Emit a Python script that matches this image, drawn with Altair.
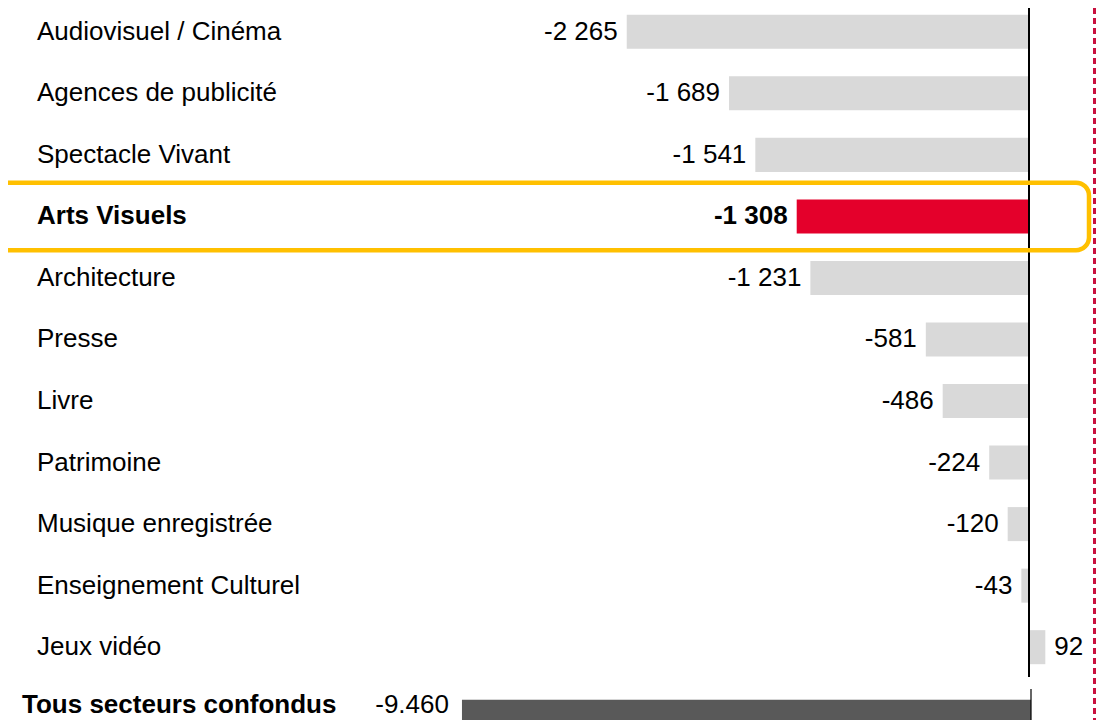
import altair as alt
import pandas as pd

categories = ["Audiovisuel / Cinéma", "Agences de publicité", "Spectacle Vivant",
              "Arts Visuels", "Architecture", "Presse", "Livre", "Patrimoine",
              "Musique enregistrée", "Enseignement Culturel", "Jeux vidéo"]
values = [-2265, -1689, -1541, -1308, -1231, -581, -486, -224, -120, -43, 92]
highlight = "Arts Visuels"
total_category = "Tous secteurs confondus"
total_value = -9460

FONT = "Liberation Sans"
FS = 26


def fmt_space(v):
    return f"{v:,}".replace(",", " ")


rows = []
for c, v in zip(categories, values):
    rows.append({"cat": c, "value": v, "label": fmt_space(v),
                 "kind": "highlight" if c == highlight else "normal"})
df = pd.DataFrame(rows)
df_total = pd.DataFrame([{"cat": total_category, "value": total_value,
                          "label": f"{total_value:,}".replace(",", "."), "kind": "total"}])

y_scale = alt.Scale(domain=categories + [total_category], range=[0, 724.5],
                    paddingInner=0.447, paddingOuter=0.11)
y_enc = alt.Y("cat:N", scale=y_scale, axis=None, sort=None)

main_x = alt.Scale(domain=[-5749, 377.3], nice=False, zero=False)
total_x = alt.Scale(domain=[-17007, 1080.6], nice=False, zero=False)

base = alt.Chart(df)

bars = base.mark_bar().encode(
    x=alt.X("value:Q", scale=main_x, axis=None),
    x2=alt.X2(datum=0),
    y=y_enc,
    color=alt.Color("kind:N", scale=alt.Scale(domain=["normal", "highlight"],
                                              range=["#D9D9D9", "#E4002B"]), legend=None),
)

zero_rule = alt.Chart(df).mark_rule(color="black", strokeWidth=1.2).encode(
    x=alt.X(datum=0, scale=main_x, axis=None),
    y=alt.value(-10), y2=alt.value(669),
)

neg_labels = base.transform_filter(
    (alt.datum.value < 0) & (alt.datum.kind == "normal")
).mark_text(align="right", baseline="middle", dx=-9, font=FONT, fontSize=FS, color="black").encode(
    x=alt.X("value:Q", scale=main_x, axis=None), y=y_enc, text="label:N")

hl_label = base.transform_filter(alt.datum.kind == "highlight").mark_text(
    align="right", baseline="middle", dx=-9, font=FONT, fontSize=FS, fontWeight="bold",
    color="black").encode(
    x=alt.X("value:Q", scale=main_x, axis=None), y=y_enc, text="label:N")

pos_labels = base.transform_filter(alt.datum.value > 0).mark_text(
    align="left", baseline="middle", dx=9, font=FONT, fontSize=FS, color="black").encode(
    x=alt.X("value:Q", scale=main_x, axis=None), y=y_enc, text="label:N")

cat_labels = base.transform_filter(alt.datum.kind == "normal").mark_text(
    align="left", baseline="middle", font=FONT, fontSize=FS, color="black").encode(
    x=alt.value(29), y=y_enc, text="cat:N")

cat_hl = base.transform_filter(alt.datum.kind == "highlight").mark_text(
    align="left", baseline="middle", font=FONT, fontSize=FS, fontWeight="bold",
    color="black").encode(
    x=alt.value(29), y=y_enc, text="cat:N")

box = base.transform_filter(alt.datum.kind == "highlight").mark_bar(
    height=67.5, cornerRadius=13, fillOpacity=0, stroke="#FFC000", strokeWidth=4.5).encode(
    x=alt.value(-60), x2=alt.value(1081), y=y_enc)

tbase = alt.Chart(df_total)
t_bar = tbase.mark_bar(color="#595959", yOffset=8).encode(
    x=alt.X("value:Q", scale=total_x, axis=None), x2=alt.X2(datum=0), y=y_enc)
t_rule = tbase.mark_rule(color="black", strokeWidth=1.2).encode(
    x=alt.X(datum=0, scale=total_x, axis=None),
    y=alt.value(681), y2=alt.value(740))
t_value = tbase.mark_text(align="right", baseline="middle", dx=-13, dy=-4, font=FONT,
                          fontSize=FS, color="black").encode(
    x=alt.X("value:Q", scale=total_x, axis=None), y=y_enc, text="label:N")
t_cat = tbase.mark_text(align="left", baseline="middle", dy=-4, font=FONT, fontSize=FS,
                        fontWeight="bold", color="black").encode(
    x=alt.value(14), y=y_enc, text="cat:N")

dashed = alt.Chart(df).mark_rule(color="#C8103E", strokeWidth=2.2, strokeDash=[6, 4]).encode(
    x=alt.value(1086.5), y=alt.value(-10), y2=alt.value(740))

chart = alt.layer(
    bars, zero_rule, neg_labels, hl_label, pos_labels, cat_labels, cat_hl, box,
    t_bar, t_rule, t_value, t_cat, dashed
).resolve_scale(x="independent").properties(
    width=1088, height=712,
    autosize=alt.AutoSizeParams(type="none"),
    padding=0,
).configure_view(stroke=None)

chart.save("out.html", embed_options={"renderer": "svg", "actions": False})
